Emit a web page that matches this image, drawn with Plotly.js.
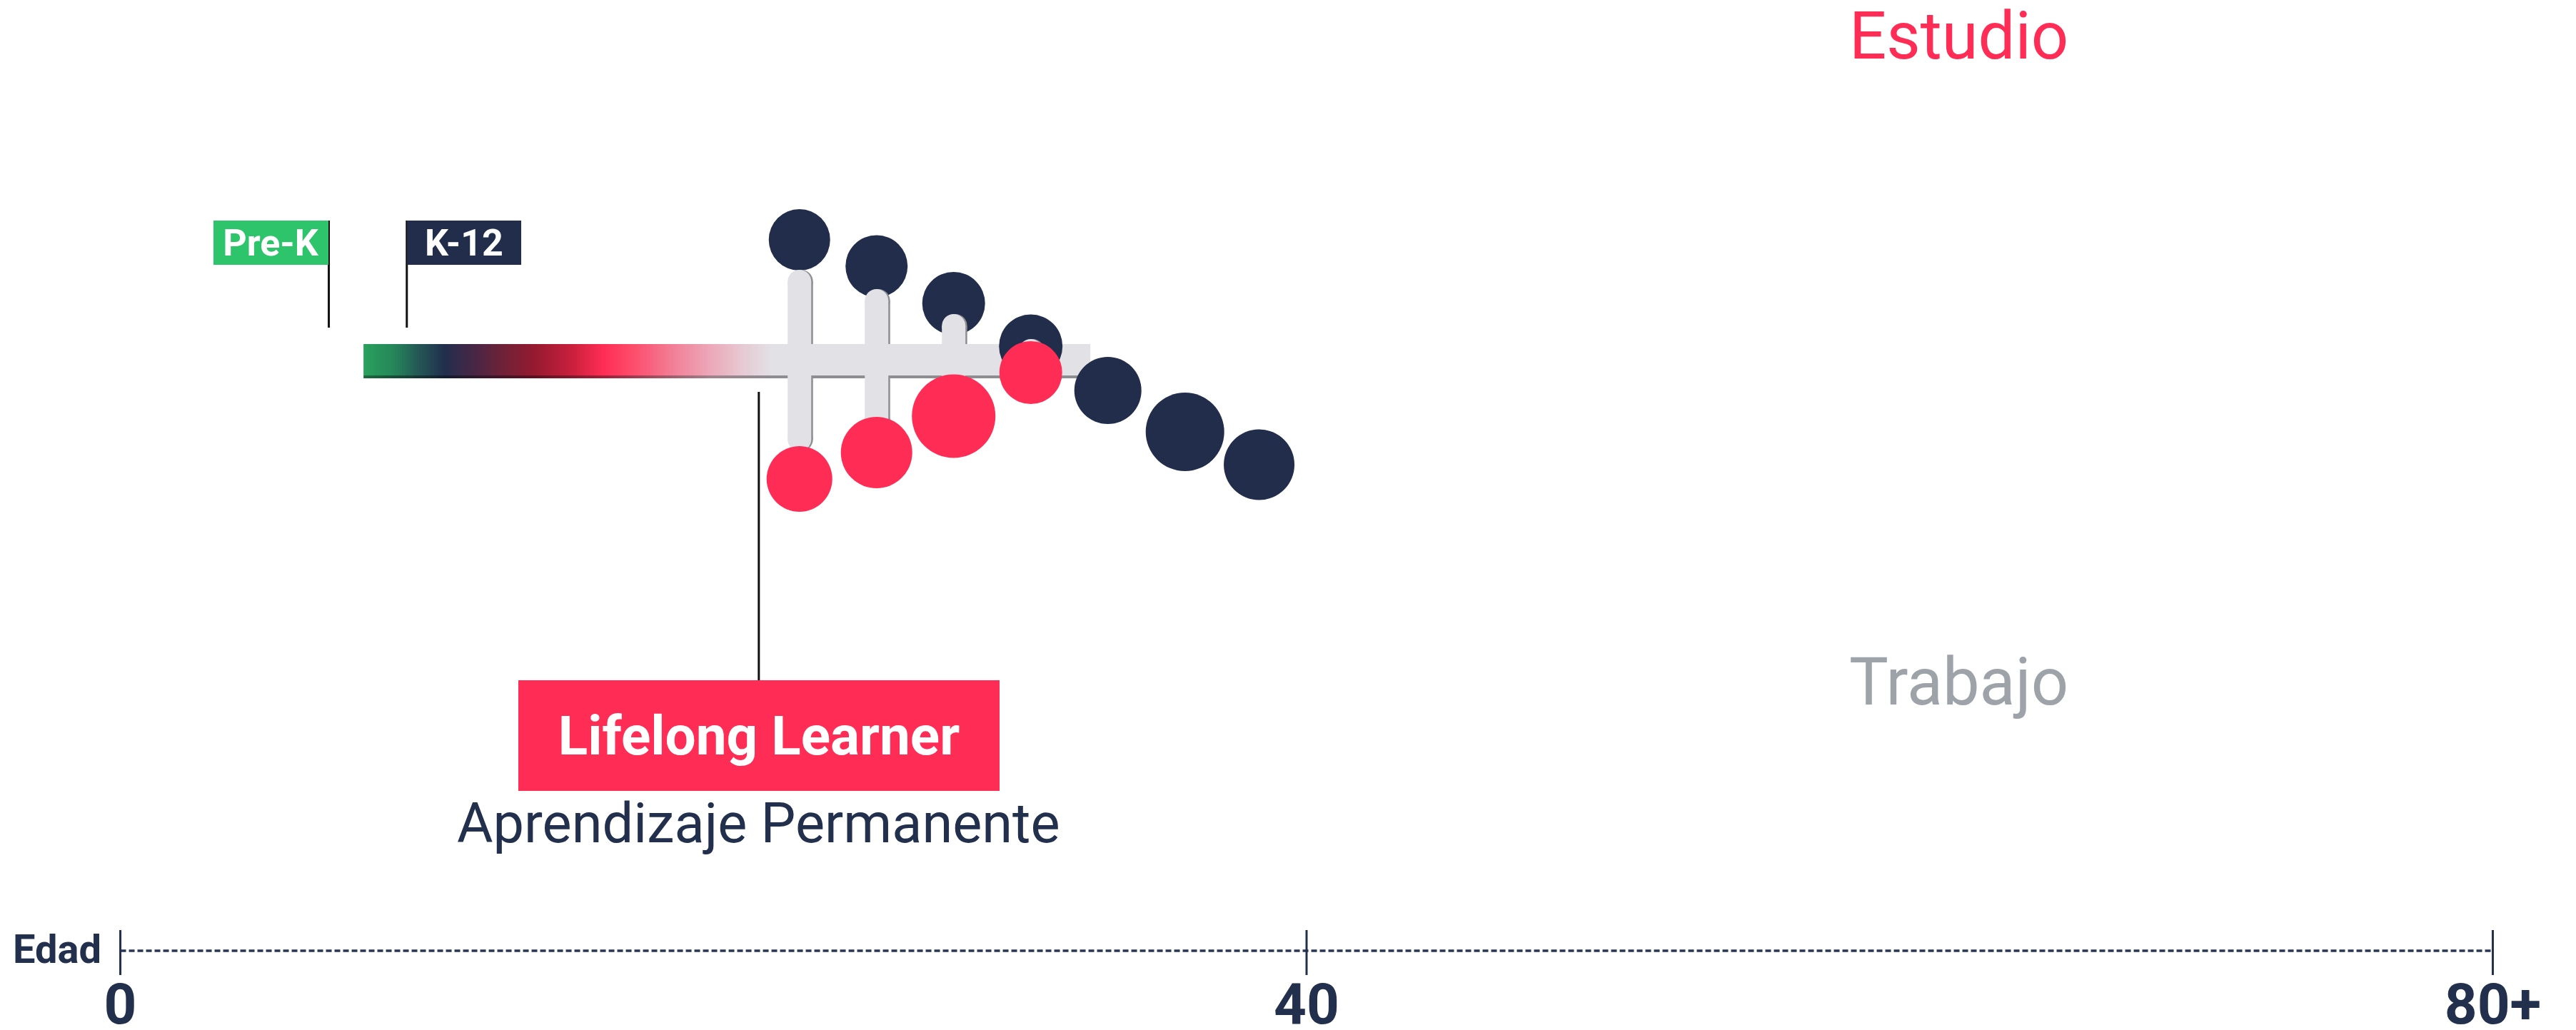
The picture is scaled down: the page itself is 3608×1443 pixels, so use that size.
<!DOCTYPE html>
<html>
<head>
<meta charset="utf-8">
<script src="https://cdn.plot.ly/plotly-3.0.1.min.js"></script>
<style>
html, body { margin: 0; padding: 0; background: #ffffff; }
#chart { width: 3608px; height: 1443px; }
</style>
</head>
<body>
<div id="chart"></div>
<script>
// ---------------- data ----------------
const navyAges  = [22.9, 25.5, 28.1, 30.7, 33.3, 35.9, 38.4];
const navyY     = [16.9, 13.2, 8.0, 2.0, -4.2, -10.0, -14.6];
const navySize  = [86, 87, 88, 89, 94, 110, 99];

const pinkAges  = [22.9, 25.5, 28.1, 30.7];
const pinkY     = [-16.6, -12.9, -7.8, -1.7];
const pinkSize  = [92, 100, 117, 88];

const stemAges  = [22.9, 25.5, 28.1, 30.7];
const stemReach = [12.7, 10.0, 6.5, 3.0];

const barStart = 8.2;
const barEnd   = 32.7;

const flagLabels = ['Pre-K', 'K-12'];
const flagAges   = [7.03, 9.66];

const learnerAge   = 21.53;
const learnerLabel = 'Lifelong Learner';
const learnerSub   = 'Aprendizaje Permanente';

const topLabel    = 'Estudio';
const bottomLabel = 'Trabajo';
const labelAge    = 62;

const tickVals = [0, 40, 80];
const tickText = ['0', '40', '80+'];
const axisTitle = 'Edad';

// ---------------- style ----------------
const NAVY = '#212d4b';
const PINK = '#ff2d55';
const GREEN = '#2dc46b';
const LIGHT = '#e2e2e6';
const SHADOW = '#8d8d92';
const TEXT = '#22304d';
const FONT = 'Roboto, "Open Sans", sans-serif';

const W = 3608, H = 1443;
const M = { l: 127, r: 75, t: 0, b: 111 };
const xRange = [-1, 81];
const yRange = [-82.7, 50.5];
const plotW = W - M.l - M.r;
const pxPerYear = plotW / (xRange[1] - xRange[0]);
const pxPerUnitY = (H - M.t - M.b) / (yRange[1] - yRange[0]);

const barTop = 2.3, barBottom = -2.1, barShadowBottom = -2.45;
const stemW = 33;
const capUnits = (stemW / 2) / pxPerUnitY;
const shadowDx = 2.5 / pxPerYear;

// gradient stops (age, colour)
const gradStops = [
  [8.2, '#29a15c'], [9.2, '#25875a'], [10.0, '#245a55'], [10.93, '#222e4d'],
  [12.0, '#4a2644'], [12.79, '#6b2238'], [13.99, '#961a30'], [15.2, '#c81f3c'],
  [16.28, '#ff2d55'], [17.3, '#fd4d6c'], [18.59, '#f27d95'], [19.96, '#ecaabb'],
  [21.0, '#e6cad3'], [22.0, LIGHT], [32.7, LIGHT]
];
const gradShadowStops = [
  [8.2, '#1b6a3c'], [10.93, '#141c30'], [13.99, '#5e1020'], [16.28, '#9c2038'],
  [19.96, '#a0838c'], [22.0, SHADOW], [32.7, SHADOW]
];
function toScale(stops) {
  return stops.map(s => [(s[0] - barStart) / (barEnd - barStart), s[1]]);
}

// heatmap grid for gradient bar
const N = 300;
const gx = [], gz = [];
for (let i = 0; i <= N; i++) gx.push(barStart + (barEnd - barStart) * i / N);
for (let i = 0; i < N; i++) gz.push((gx[i] + gx[i + 1]) / 2);

const traces = [];
traces.push({
  type: 'heatmap', x: gx, y: [barBottom, barTop], z: [gz],
  zmin: barStart, zmax: barEnd, colorscale: toScale(gradStops),
  showscale: false, zsmooth: false, hoverinfo: 'skip'
});
traces.push({
  type: 'heatmap', x: gx, y: [barShadowBottom, barBottom], z: [gz],
  zmin: barStart, zmax: barEnd, colorscale: toScale(gradShadowStops),
  showscale: false, zsmooth: false, hoverinfo: 'skip'
});

// navy circles
traces.push({
  type: 'scatter', mode: 'markers', x: navyAges, y: navyY,
  marker: { size: navySize, sizemode: 'diameter', sizeref: 1, color: NAVY, opacity: 1, line: { width: 0 } },
  hoverinfo: 'skip'
});

// stem shadows (outside bar)
const shX = [], shY = [], shCapX = [], shCapY = [];
stemAges.forEach((a, i) => {
  const r = stemReach[i] - capUnits;
  shX.push(a + shadowDx, a + shadowDx, null, a + shadowDx, a + shadowDx, null);
  shY.push(barTop, Math.max(barTop, r), null, barShadowBottom, Math.min(barShadowBottom, -r), null);
  shCapX.push(a + shadowDx, a + shadowDx);
  shCapY.push(r, -r);
});
traces.push({
  type: 'scatter', mode: 'lines', x: shX, y: shY,
  line: { color: SHADOW, width: stemW }, hoverinfo: 'skip', connectgaps: false
});
traces.push({
  type: 'scatter', mode: 'markers', x: shCapX, y: shCapY,
  marker: { size: stemW, color: SHADOW, opacity: 1, line: { width: 0 } }, hoverinfo: 'skip'
});

// light stems
const stX = [], stY = [], capX = [], capY = [];
stemAges.forEach((a, i) => {
  const r = stemReach[i] - capUnits;
  stX.push(a, a, null);
  stY.push(r, -r, null);
  capX.push(a, a);
  capY.push(r, -r);
});
traces.push({
  type: 'scatter', mode: 'lines', x: stX, y: stY,
  line: { color: LIGHT, width: stemW }, hoverinfo: 'skip', connectgaps: false
});
traces.push({
  type: 'scatter', mode: 'markers', x: capX, y: capY,
  marker: { size: stemW, color: LIGHT, opacity: 1, line: { width: 0 } }, hoverinfo: 'skip'
});

// pink circles
traces.push({
  type: 'scatter', mode: 'markers', x: pinkAges, y: pinkY,
  marker: { size: pinkSize, sizemode: 'diameter', sizeref: 1, color: PINK, opacity: 1, line: { width: 0 } },
  hoverinfo: 'skip'
});

// ---------------- shapes ----------------
const shapes = [];
shapes.push({
  type: 'line', xref: 'x', yref: 'paper', x0: tickVals[0], x1: tickVals[tickVals.length - 1],
  y0: 0, y1: 0, line: { color: '#2b3652', width: 3.5, dash: '8px,4px' }, layer: 'above'
});
tickVals.forEach(v => {
  shapes.push({
    type: 'line', xref: 'x', yref: 'paper', x0: v, x1: v, y0: 0.0218, y1: -0.0255,
    line: { color: TEXT, width: 3 }, layer: 'above'
  });
});
flagAges.forEach(a => {
  shapes.push({
    type: 'line', xref: 'x', yref: 'y', x0: a, x1: a, y0: 19.6, y1: 4.6,
    line: { color: '#111111', width: 3 }, layer: 'above'
  });
});
shapes.push({
  type: 'line', xref: 'x', yref: 'y', x0: learnerAge, x1: learnerAge, y0: -4.4, y1: -44.8,
  line: { color: '#111111', width: 3 }, layer: 'above'
});

// ---------------- annotations ----------------
const annotations = [];
annotations.push({
  x: labelAge, y: 45.5, xref: 'x', yref: 'y', text: topLabel, showarrow: false,
  xanchor: 'center', yanchor: 'middle', font: { family: FONT, size: 92, color: PINK }
});
annotations.push({
  x: labelAge, y: -45.0, xref: 'x', yref: 'y', text: bottomLabel, showarrow: false,
  xanchor: 'center', yanchor: 'middle', font: { family: FONT, size: 92, color: '#9ea3aa' }
});
annotations.push({
  x: flagAges[0], y: 19.6, xref: 'x', yref: 'y', text: flagLabels[0], showarrow: false,
  xanchor: 'right', yanchor: 'top', width: 161, height: 62, align: 'center', valign: 'middle',
  bgcolor: GREEN, borderpad: 0, borderwidth: 0, xshift: -1,
  font: { family: FONT, size: 52, color: '#ffffff', weight: 'bold' }
});
annotations.push({
  x: flagAges[1], y: 19.6, xref: 'x', yref: 'y', text: flagLabels[1], showarrow: false,
  xanchor: 'left', yanchor: 'top', width: 160, height: 62, align: 'center', valign: 'middle',
  bgcolor: NAVY, borderpad: 0, borderwidth: 0,
  font: { family: FONT, size: 52, color: '#ffffff', weight: 'bold' }
});
annotations.push({
  x: learnerAge, y: -44.8, xref: 'x', yref: 'y', text: learnerLabel, showarrow: false,
  xanchor: 'center', yanchor: 'top', width: 674, height: 155, align: 'center', valign: 'middle',
  bgcolor: PINK, borderpad: 0, borderwidth: 0,
  font: { family: FONT, size: 76.5, color: '#ffffff', weight: 'bold' }
});
annotations.push({
  x: learnerAge, y: -64.8, xref: 'x', yref: 'y', text: learnerSub, showarrow: false,
  xanchor: 'center', yanchor: 'middle',
  font: { family: FONT, size: 77.5, color: TEXT }
});
annotations.push({
  x: (80 - M.l) / plotW, y: -82.5, xref: 'paper', yref: 'y', text: axisTitle, showarrow: false,
  xanchor: 'center', yanchor: 'middle',
  font: { family: FONT, size: 56, color: TEXT, weight: 'bold' }
});

const layout = {
  width: W, height: H,
  margin: M,
  paper_bgcolor: '#ffffff', plot_bgcolor: '#ffffff',
  showlegend: false,
  xaxis: {
    range: xRange, showgrid: false, zeroline: false, showline: false,
    tickmode: 'array', tickvals: tickVals, ticktext: tickText, ticks: '',
    ticklabelstandoff: 21,
    tickfont: { family: FONT, size: 80, color: TEXT, weight: 'bold' },
    fixedrange: true
  },
  yaxis: { range: yRange, visible: false, showgrid: false, zeroline: false, fixedrange: true },
  shapes: shapes,
  annotations: annotations
};

Plotly.newPlot('chart', traces, layout, { displayModeBar: false, staticPlot: true });
</script>
</body>
</html>
